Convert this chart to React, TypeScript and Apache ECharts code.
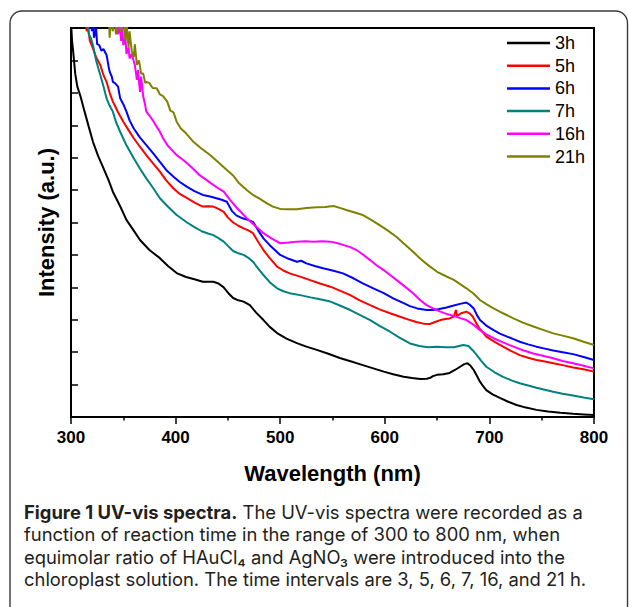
import React, { useEffect, useRef } from "react";
import * as echarts from "echarts";

// Wavelength (nm), intensity (a.u.) pairs
const spectrum3h: number[][] = [
  [300, 12.2], [301, 11.6], [302, 11.3], [304, 10.6], [306, 10.2], [309, 9.9], [313, 9.42], [317, 8.95],
  [321, 8.49], [326, 8.05], [331, 7.68], [336, 7.3], [340, 6.95], [347, 6.5], [353, 6.08], [360, 5.75],
  [366, 5.46], [375, 5.15], [385, 4.9], [393, 4.65], [401, 4.44], [410, 4.32], [418, 4.25], [426, 4.17],
  [436, 4.17], [441, 4.12], [446, 4.0], [451, 3.8], [455, 3.67], [460, 3.6], [465, 3.56], [471, 3.45],
  [477, 3.22], [484, 2.99], [490, 2.78], [497, 2.59], [506, 2.42], [516, 2.28], [525, 2.17], [535, 2.07],
  [546, 1.95], [557, 1.82], [568, 1.71], [579, 1.6], [589, 1.5], [599, 1.4], [608, 1.32], [618, 1.24],
  [626, 1.2], [634, 1.17], [640, 1.18], [643, 1.2], [646, 1.26], [650, 1.3], [656, 1.32], [662, 1.36],
  [667, 1.45], [672, 1.55], [676, 1.63], [679, 1.66], [682, 1.58], [685, 1.45], [688, 1.27], [691, 1.09],
  [694, 0.95], [697, 0.83], [703, 0.7], [710, 0.59], [718, 0.47], [726, 0.37], [735, 0.29], [745, 0.22],
  [756, 0.17], [768, 0.13], [780, 0.1], [790, 0.08], [800, 0.06],
];

const spectrum5h: number[][] = [
  [314, 12.3], [315, 11.9], [316, 12.1], [318, 11.6], [321, 11.37], [324, 11.1], [328, 10.86], [331, 10.55],
  [334, 10.34], [337, 10.0], [340, 9.73], [345, 9.4], [350, 9.11], [355, 8.85], [360, 8.6], [366, 8.33],
  [372, 8.08], [379, 7.8], [385, 7.57], [391, 7.3], [398, 7.05], [404, 6.88], [411, 6.75], [419, 6.6],
  [426, 6.49], [431, 6.5], [436, 6.49], [441, 6.42], [446, 6.33], [450, 6.15], [455, 6.0], [460, 5.9],
  [465, 5.82], [470, 5.75], [474, 5.67], [479, 5.4], [484, 5.15], [490, 4.9], [497, 4.64], [503, 4.52],
  [509, 4.43], [519, 4.33], [528, 4.23], [538, 4.12], [548, 4.02], [557, 3.9], [567, 3.76], [576, 3.6],
  [586, 3.45], [595, 3.32], [605, 3.2], [614, 3.1], [624, 2.99], [630, 2.93], [637, 2.88], [643, 2.87],
  [648, 2.93], [653, 2.99], [658, 3.02], [662, 3.04], [666, 3.1], [668, 3.3], [669, 3.12], [673, 3.2],
  [678, 3.25], [681, 3.2], [684, 3.1], [687, 2.92], [690, 2.75], [694, 2.6], [697, 2.48], [705, 2.32],
  [713, 2.17], [721, 2.03], [729, 1.91], [737, 1.83], [745, 1.76], [753, 1.71], [761, 1.66], [770, 1.6],
  [780, 1.53], [790, 1.47], [800, 1.4],
];

const spectrum6h: number[][] = [
  [319, 12.3], [320, 11.9], [321, 12.2], [322, 11.7], [324, 12.0], [325, 11.5], [327, 11.47], [329, 11.3],
  [331, 11.35], [334, 11.17], [336, 10.8], [337, 10.65], [339, 10.5], [340, 10.34], [342, 10.3], [345, 10.19],
  [347, 9.83], [350, 9.65], [353, 9.42], [356, 9.15], [360, 8.9], [366, 8.62], [372, 8.39], [379, 8.12],
  [385, 7.87], [391, 7.62], [398, 7.41], [404, 7.25], [411, 7.1], [418, 6.97], [426, 6.85], [433, 6.8],
  [439, 6.75], [444, 6.7], [449, 6.64], [454, 6.35], [458, 6.22], [464, 6.13], [469, 6.08], [474, 6.02],
  [479, 5.75], [484, 5.51], [490, 5.3], [500, 5.0], [508, 4.88], [516, 4.79], [520, 4.82], [525, 4.74],
  [533, 4.66], [541, 4.59], [550, 4.52], [560, 4.43], [570, 4.28], [579, 4.12], [589, 3.97], [599, 3.82],
  [608, 3.66], [618, 3.51], [624, 3.42], [631, 3.35], [640, 3.3], [646, 3.3], [652, 3.33], [659, 3.38],
  [665, 3.43], [672, 3.49], [678, 3.53], [681, 3.47], [685, 3.35], [688, 3.15], [691, 2.99], [697, 2.82],
  [704, 2.68], [710, 2.57], [717, 2.48], [723, 2.4], [729, 2.32], [737, 2.24], [745, 2.17], [753, 2.11],
  [761, 2.05], [770, 2.0], [780, 1.94], [790, 1.85], [800, 1.76],
];

const spectrum7h: number[][] = [
  [316, 12.2], [317, 11.8], [319, 11.7], [321, 11.47], [324, 11.0], [328, 10.55], [331, 10.2], [334, 9.83],
  [337, 9.6], [340, 9.42], [343, 9.1], [347, 8.8], [353, 8.38], [360, 7.98], [366, 7.66], [372, 7.36],
  [379, 7.04], [385, 6.75], [393, 6.48], [401, 6.23], [411, 6.0], [418, 5.86], [425, 5.73], [431, 5.66],
  [436, 5.61], [441, 5.52], [446, 5.41], [450, 5.28], [455, 5.12], [460, 5.05], [465, 5.0], [470, 4.9],
  [474, 4.79], [479, 4.58], [484, 4.38], [490, 4.16], [497, 3.97], [503, 3.88], [509, 3.82], [519, 3.76],
  [529, 3.69], [538, 3.63], [548, 3.56], [557, 3.44], [567, 3.3], [576, 3.15], [586, 2.99], [595, 2.81],
  [605, 2.63], [614, 2.45], [624, 2.27], [633, 2.19], [641, 2.15], [650, 2.17], [658, 2.15], [666, 2.15],
  [671, 2.19], [675, 2.22], [680, 2.19], [684, 2.06], [688, 1.91], [692, 1.74], [697, 1.55], [705, 1.38],
  [713, 1.24], [721, 1.13], [729, 1.04], [737, 0.97], [745, 0.9], [753, 0.84], [761, 0.78], [770, 0.72],
  [780, 0.66], [790, 0.6], [800, 0.55],
];

const spectrum16h: number[][] = [
  [344, 12.3], [345, 11.8], [346, 12.2], [348, 11.6], [349, 12.1], [350, 11.47], [352, 11.7], [353, 11.2],
  [355, 11.4], [356, 11.06], [358, 11.2], [361, 10.86], [363, 10.4], [364, 10.7], [366, 10.03], [367, 10.5],
  [369, 9.9], [371, 9.6], [372, 9.42], [375, 9.3], [379, 9.11], [382, 8.95], [385, 8.8], [388, 8.6],
  [392, 8.39], [396, 8.25], [401, 8.08], [406, 7.96], [411, 7.83], [417, 7.65], [423, 7.46], [430, 7.3],
  [436, 7.16], [441, 7.05], [446, 6.95], [452, 6.7], [458, 6.47], [463, 6.3], [468, 6.13], [476, 5.9],
  [484, 5.67], [492, 5.5], [500, 5.36], [508, 5.38], [516, 5.41], [524, 5.42], [532, 5.41], [540, 5.42],
  [548, 5.41], [555, 5.36], [560, 5.31], [567, 5.24], [573, 5.15], [580, 4.99], [586, 4.84], [592, 4.68],
  [599, 4.53], [605, 4.38], [611, 4.23], [619, 4.03], [627, 3.82], [634, 3.6], [640, 3.45], [646, 3.35],
  [653, 3.25], [659, 3.18], [666, 3.12], [672, 3.05], [678, 2.99], [685, 2.84], [691, 2.68], [697, 2.55],
  [704, 2.43], [713, 2.3], [723, 2.17], [732, 2.06], [742, 1.96], [752, 1.88], [761, 1.81], [770, 1.73],
  [780, 1.66], [790, 1.58], [800, 1.5],
];

const spectrum21h: number[][] = [
  [336, 12.4], [337, 11.7], [338, 12.3], [340, 11.9], [341, 12.5], [343, 11.8], [345, 12.3], [348, 11.9],
  [350, 12.4], [352, 11.6], [353, 12.2], [355, 11.4], [356, 11.9], [358, 11.3], [360, 11.1], [361, 11.5],
  [363, 10.86], [365, 11.0], [367, 10.6], [369, 10.6], [371, 10.3], [372, 10.34], [375, 10.3], [378, 10.15],
  [382, 10.14], [385, 9.95], [388, 9.9], [392, 9.73], [395, 9.45], [398, 9.4], [401, 9.11], [405, 8.9],
  [410, 8.75], [417, 8.49], [424, 8.3], [433, 8.08], [440, 7.88], [449, 7.62], [455, 7.45], [461, 7.2],
  [468, 7.0], [474, 6.85], [481, 6.72], [487, 6.6], [493, 6.49], [500, 6.42], [507, 6.41], [516, 6.41],
  [525, 6.45], [535, 6.47], [543, 6.48], [551, 6.51], [557, 6.45], [564, 6.38], [572, 6.3], [579, 6.23],
  [587, 6.08], [595, 5.92], [603, 5.75], [611, 5.56], [619, 5.33], [627, 5.1], [634, 4.88], [642, 4.67],
  [650, 4.48], [658, 4.35], [666, 4.23], [672, 4.1], [678, 3.97], [685, 3.8], [691, 3.61], [697, 3.48],
  [704, 3.35], [713, 3.2], [723, 3.04], [732, 2.91], [742, 2.79], [752, 2.68], [761, 2.58], [770, 2.51],
  [780, 2.43], [790, 2.32], [800, 2.22],
];

const seriesNames = ["3h", "5h", "6h", "7h", "16h", "21h"];
const seriesColors = ["#000000", "#ff0000", "#0000ff", "#008080", "#ff00ff", "#808000"];
const seriesData = [spectrum3h, spectrum5h, spectrum6h, spectrum7h, spectrum16h, spectrum21h];

const xTitle = "Wavelength (nm)";
const yTitle = "Intensity (a.u.)";

// caption lines
const captionBold = "Figure 1 UV-vis spectra.";
const captionLines = [
  " The UV-vis spectra were recorded as a",
  "function of reaction time in the range of 300 to 800 nm, when",
  "equimolar ratio of HAuCl₄ and AgNO₃ were introduced into the",
  "chloroplast solution. The time intervals are 3, 5, 6, 7, 16, and 21 h.",
];

const AXIS_FONT = "Arial, 'Liberation Sans', sans-serif";
const CAPTION_FONT = "Inter, 'Open Sans', sans-serif";

export default function App() {
  const ref = useRef<HTMLDivElement>(null);

  useEffect(() => {
    document.body.style.margin = "0";
    if (!ref.current) return;
    const chart = echarts.init(ref.current, null, { renderer: "svg" });

    const capSize = 18.4;
    const captionRich = {
      b: { fontFamily: CAPTION_FONT, fontSize: capSize, fontWeight: "bold", color: "#231f20", lineHeight: 20 },
      r: { fontFamily: CAPTION_FONT, fontSize: capSize, color: "#231f20", lineHeight: 20 },
    };

    const captionTexts = captionLines.map((line, i) => ({
      type: "text",
      left: 24,
      top: 503 + i * 22.4,
      silent: true,
      style:
        i === 0
          ? { text: `{b|${captionBold}}{r|${line}}`, rich: captionRich, fill: "#231f20" }
          : { text: line, font: `${capSize}px ${CAPTION_FONT}`, fill: "#231f20" },
    }));

    chart.setOption({
      animation: false,
      backgroundColor: "#ffffff",
      grid: {
        left: 71,
        top: 28,
        right: 35,
        bottom: 190,
        show: true,
        borderColor: "#000",
        borderWidth: 2,
        containLabel: false,
      },
      legend: {
        orient: "vertical",
        left: 507,
        top: 34,
        padding: 0,
        icon: "rect",
        itemWidth: 43,
        itemHeight: 2.5,
        itemGap: 4.7,
        align: "left",
        data: seriesNames,
        textStyle: { fontFamily: AXIS_FONT, fontSize: 18, color: "#000", lineHeight: 18 },
      },
      xAxis: {
        type: "value",
        min: 300,
        max: 800,
        interval: 100,
        name: xTitle,
        nameLocation: "middle",
        nameGap: 45,
        nameTextStyle: { fontFamily: AXIS_FONT, fontSize: 22, fontWeight: "bold", color: "#000" },
        axisLine: { lineStyle: { color: "#000", width: 2 } },
        axisTick: { inside: false, length: 7, lineStyle: { color: "#000", width: 1.5 } },
        minorTick: { show: true, splitNumber: 2, length: 3.5, lineStyle: { color: "#000", width: 1.5 } },
        axisLabel: { fontFamily: AXIS_FONT, fontSize: 17, fontWeight: "bold", color: "#000", margin: 12 },
        splitLine: { show: false },
      },
      yAxis: {
        type: "value",
        min: 0,
        max: 12,
        interval: 1,
        name: yTitle,
        nameLocation: "middle",
        nameGap: 14,
        nameTextStyle: { fontFamily: AXIS_FONT, fontSize: 22, fontWeight: "bold", color: "#000" },
        axisLine: { show: true, lineStyle: { color: "#000", width: 2 } },
        axisTick: { inside: true, length: 7, lineStyle: { color: "#000", width: 1.5 } },
        axisLabel: { show: false },
        splitLine: { show: false },
      },
      series: seriesNames.map((name, i) => ({
        name,
        type: "line",
        data: seriesData[i],
        showSymbol: false,
        symbol: "none",
        clip: true,
        lineStyle: { color: seriesColors[i], width: 2 },
        itemStyle: { color: seriesColors[i] },
      })),
      graphic: [
        {
          type: "rect",
          shape: { x: 10, y: 11, width: 617.5, height: 620, r: 12 },
          style: { fill: "none", stroke: "#3a3a3a", lineWidth: 1.4 },
          silent: true,
          z: 100,
        },
        ...captionTexts,
      ],
    });

    return () => {
      chart.dispose();
    };
  }, []);

  return <div ref={ref} style={{ width: 629, height: 607 }} />;
}
